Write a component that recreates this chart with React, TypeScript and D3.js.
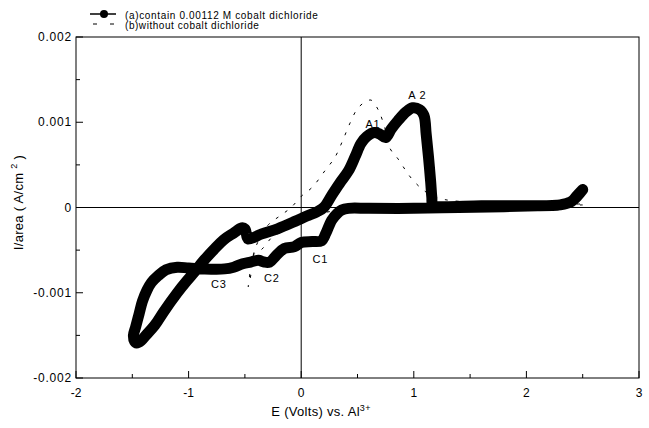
import React from "react";
import * as d3 from "d3";

// curve (a): with 0.00112 M cobalt dichloride, traced in sweep order
const aE = [
  2.5, 2.45, 2.4, 2.3, 2.1, 1.8, 1.4, 1.0, 0.6, 0.42, 0.36, 0.32, 0.27, 0.22, 0.18, 0.1, 0.0,
  -0.06, -0.15, -0.22, -0.28, -0.33, -0.38, -0.45, -0.52, -0.6, -0.68, -0.87, -1.0, -1.1,
  -1.2, -1.27, -1.33, -1.37, -1.41, -1.44, -1.47, -1.49, -1.48, -1.46, -1.42, -1.38, -1.3,
  -1.22, -1.1, -1.015, -0.95, -0.87, -0.78, -0.69, -0.6, -0.53, -0.5, -0.48, -0.47, -0.35,
  -0.21, -0.05, 0.05, 0.14, 0.2, 0.27, 0.35, 0.42, 0.48, 0.53, 0.58, 0.65, 0.7, 0.75, 0.8,
  0.86, 0.93, 0.99, 1.05, 1.09, 1.11, 1.13, 1.15, 1.16, 1.17, 1.25, 1.6, 2.0, 2.3, 2.4, 2.45,
  2.5,
];
const aI = [
  0.00021, 0.00014, 0.00007, 0.00003, 0.00002, 0.00001, 0.0, -0.00001, -0.00001, -0.00001,
  -0.00003, -0.00007, -0.00015, -0.0003, -0.00039, -0.0004, -0.00041, -0.00046, -0.00048,
  -0.00056, -0.00064, -0.00064, -0.00062, -0.00064, -0.00066, -0.0007, -0.00072, -0.00072,
  -0.00071, -0.0007, -0.00073, -0.0008, -0.00088, -0.00097, -0.0011, -0.00125, -0.0014,
  -0.0015, -0.00157, -0.00159, -0.00156, -0.0015, -0.00138, -0.00122, -0.001, -0.00086,
  -0.00076, -0.00063, -0.0005, -0.00038, -0.0003, -0.00024, -0.00025, -0.00035, -0.00037,
  -0.00031, -0.00025, -0.00016, -0.0001, -0.00005, 0.0, 0.00014, 0.0003, 0.00043, 0.0006,
  0.00075, 0.00083, 0.00088, 0.00086, 0.00082, 0.00092, 0.00102, 0.00112, 0.00117, 0.00115,
  0.00108, 0.00086, 0.0006, 0.0003, 0.00012, 0.00002, 0.00001, 0.00002, 0.00002, 0.00003,
  0.00007, 0.00013, 0.00021,
];

// curve (b): without cobalt dichloride
const bE = [
  2.5, 2.0, 1.5, 1.0, 0.5, 0.2, 0.05, -0.1, -0.2, -0.26, -0.35, -0.42, -0.44, -0.47, -0.44,
  -0.4, -0.29, -0.19, -0.09, 0.0, 0.1, 0.21, 0.3, 0.37, 0.43, 0.5, 0.57, 0.62, 0.66, 0.7,
  0.75, 0.79, 0.86, 0.92, 0.98, 1.07, 1.16, 1.25, 1.34, 1.6, 2.0, 2.5,
];
const bI = [
  0.00003, 0.00002, 0.00001, 0.0, -0.00002, -0.00006, -0.00012, -0.00022, -0.0003, -0.00035,
  -0.00049, -0.00055, -0.00074, -0.00093, -0.00065, -0.00045, -0.0002, -0.0001, 0.0, 0.00013,
  0.00024, 0.00043, 0.00059, 0.00079, 0.00098, 0.00116, 0.00124, 0.00126, 0.0012, 0.0011,
  0.0009, 0.00069, 0.00057, 0.00045, 0.00034, 0.00022, 0.00014, 0.0001, 0.00008, 0.00006,
  0.00005, 0.00004,
];

// peak labels
const peakNames = ["A1", "A 2", "C1", "C2", "C3"];
const peakE = [0.57, 0.95, 0.1, -0.33, -0.8];
const peakI = [0.00093, 0.00127, -0.00065, -0.00087, -0.00095];

const xTicks = [-2, -1, 0, 1, 2, 3];
const xMinor = [-1.5, -0.5, 0.5, 1.5, 2.5];
const yTicks = [-0.002, -0.001, 0, 0.001, 0.002];
const yTickLabels = ["-0.002", "-0.001", "0", "0.001", "0.002"];
const yMinor = [-0.0015, -0.0005, 0.0005, 0.0015];

const W = 649;
const H = 428;
const margin = { top: 37, right: 10, bottom: 50, left: 76 };
const FONT = "'Liberation Sans', Arial, sans-serif";

export default function App() {
  const x = d3.scaleLinear().domain([-2, 3]).range([margin.left, W - margin.right]);
  const y = d3.scaleLinear().domain([-0.002, 0.002]).range([H - margin.bottom, margin.top]);

  const line = d3
    .line<[number, number]>()
    .x((d) => x(d[0]))
    .y((d) => y(d[1]))
    .curve(d3.curveCatmullRom.alpha(0.5));

  const aPts = aE.map((e, i) => [e, aI[i]] as [number, number]);
  const bPts = bE.map((e, i) => [e, bI[i]] as [number, number]);

  const x0 = x.range()[0];
  const x1 = x.range()[1];
  const yTop = y.range()[1];
  const yBot = y.range()[0];

  return (
    <svg
      width={W}
      height={H}
      style={{ position: "absolute", left: 0, top: 0, background: "#fff" }}
      fontFamily={FONT}
    >
      {/* legend */}
      <g>
        <line x1={90} x2={116} y1={14} y2={14} stroke="#000" strokeWidth={1.5} />
        <circle cx={104} cy={14} r={4} fill="#000" />
        <text x={125} y={18.5} fontSize={10} letterSpacing={0.65}>
          (a)contain 0.00112 M  cobalt dichloride
        </text>
        <line x1={93} x2={97} y1={24} y2={24} stroke="#000" strokeWidth={1} />
        <line x1={110} x2={114} y1={24} y2={24} stroke="#000" strokeWidth={1} />
        <text x={125} y={28.5} fontSize={10} letterSpacing={0.55}>
          (b)without cobalt dichloride
        </text>
      </g>

      {/* frame */}
      <rect x={x0} y={yTop} width={x1 - x0} height={yBot - yTop} fill="none" stroke="#000" strokeWidth={1} />
      {/* zero lines */}
      <line x1={x0} x2={x1} y1={y(0)} y2={y(0)} stroke="#000" strokeWidth={1} />
      <line x1={x(0)} x2={x(0)} y1={yTop} y2={yBot} stroke="#000" strokeWidth={1} />

      {/* x ticks */}
      {xTicks.map((t) => (
        <g key={"xt" + t}>
          <line x1={x(t)} x2={x(t)} y1={yBot} y2={yBot - 7} stroke="#000" />
          <text x={x(t)} y={yBot + 19} fontSize={12} textAnchor="middle">
            {t}
          </text>
        </g>
      ))}
      {xMinor.map((t) => (
        <line key={"xm" + t} x1={x(t)} x2={x(t)} y1={yBot} y2={yBot - 4} stroke="#000" />
      ))}

      {/* y ticks */}
      {yTicks.map((t, i) => (
        <g key={"yt" + t}>
          <line x1={x0} x2={x0 + 7} y1={y(t)} y2={y(t)} stroke="#000" />
          <text x={x0 - 4} y={y(t) + 4} fontSize={12} textAnchor="end" letterSpacing={0.8}>
            {yTickLabels[i]}
          </text>
        </g>
      ))}
      {yMinor.map((t) => (
        <line key={"ym" + t} x1={x0} x2={x0 + 4} y1={y(t)} y2={y(t)} stroke="#000" />
      ))}

      {/* axis titles */}
      <text x={321} y={416} fontSize={13} textAnchor="middle" letterSpacing={0.3}>
        E  (Volts) vs. Al
        <tspan fontSize={9} dy={-5}>3+</tspan>
      </text>
      <text
        transform={`translate(23,${y(0) - 5}) rotate(-90)`}
        fontSize={13}
        textAnchor="middle"
        letterSpacing={0.3}
      >
        I/area  ( A/cm <tspan fontSize={9} dy={-6}>2</tspan>
        <tspan dy={6}> )</tspan>
      </text>

      {/* curves */}
      <path d={line(bPts) || ""} fill="none" stroke="#000" strokeWidth={1} strokeDasharray="3,8" />
      <path
        d={line(aPts) || ""}
        fill="none"
        stroke="#000"
        strokeWidth={11}
        strokeLinejoin="round"
        strokeLinecap="round"
      />

      {/* peak labels */}
      {peakNames.map((n, i) => (
        <text key={n} x={x(peakE[i])} y={y(peakI[i])} fontSize={11} letterSpacing={0.8}>
          {n}
        </text>
      ))}
    </svg>
  );
}
